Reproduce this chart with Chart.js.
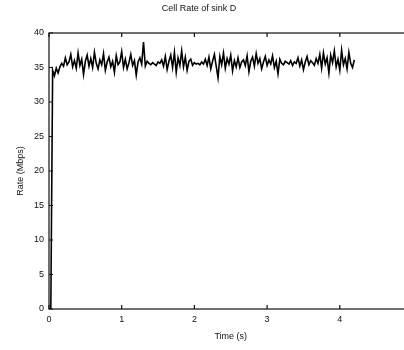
<!DOCTYPE html>
<html>
<head>
<meta charset="utf-8">
<script src="https://cdn.jsdelivr.net/npm/chart.js@4"></script>
<style>
  html, body { margin: 0; padding: 0; background: #fff; overflow: hidden; }
  #wrap { position: absolute; left: 0; top: 0; width: 420px; height: 350px; }
</style>
</head>
<body>
<div id="wrap"><canvas id="canvas" width="420" height="350"></canvas></div>
<script>
// sample spacing of the trace (s)
var step = 0.025;

// cell rate (Mbps), first two samples before the source starts
var rate = [
  0, 0,
  34.6, 33.8, 34.9, 34.2, 35.1, 35.6, 35.2, 36.4, 35.4, 35.8,
  36.9, 35.1, 36.0, 34.9, 37.1, 35.3, 36.2, 34.0, 35.9, 36.8,
  35.2, 36.3, 35.0, 37.2, 35.6, 34.8, 36.1, 35.4, 37.0, 34.6,
  35.8, 36.5, 35.1, 35.9, 34.3, 36.7, 35.4, 35.8, 37.3, 35.0,
  36.2, 34.8, 35.7, 36.9, 35.3, 36.0, 33.9, 35.8, 36.4, 35.5,
  38.7, 35.2, 35.9, 35.6, 35.4, 35.7, 35.5, 35.3, 35.8, 35.6,
  36.1, 35.2, 36.6, 34.7, 35.9, 36.8, 35.0, 37.2, 34.3, 36.4,
  35.3, 37.4, 35.1, 36.5, 34.6, 35.9, 36.2, 35.3, 35.7, 35.5,
  35.6, 35.4, 35.8, 35.5, 36.2, 35.3, 36.5, 34.8, 35.9, 36.9,
  35.2, 33.5, 36.6, 35.4, 37.1, 34.9, 36.3, 35.5, 36.8, 34.5,
  36.0, 35.1, 36.4, 35.0, 35.8, 36.1, 35.3, 36.7, 34.4, 35.9,
  36.5, 35.2, 37.0, 35.6, 36.3, 34.8, 35.8, 36.6, 35.3, 36.1,
  35.5, 36.7, 35.0, 35.9, 34.1, 36.2, 35.6, 35.4, 35.9, 35.7,
  35.5, 36.0, 35.3, 35.8, 35.6, 36.4, 35.2, 36.1, 34.7, 35.8,
  36.6, 35.4, 36.0, 35.7, 35.3, 36.3, 35.6, 36.9, 34.9, 37.1,
  35.5, 36.4, 34.2, 36.8, 35.7, 37.4, 35.1, 36.2, 34.6, 37.5,
  35.4, 36.3, 34.8, 37.2, 35.6, 35.0, 36.1
];

var xTicks = [0, 1, 2, 3, 4, 5];
var yTicks = [0, 5, 10, 15, 20, 25, 30, 35, 40];

var points = rate.map(function (v, i) { return { x: i * step, y: v }; });

var font = { family: 'Liberation Sans, Arial, sans-serif', size: 9 };

// matlab style box with inward ticks
var boxPlugin = {
  id: 'box',
  afterDraw: function (chart) {
    var ctx = chart.ctx, a = chart.chartArea;
    var xs = chart.scales.x, ys = chart.scales.y;
    ctx.save();
    ctx.strokeStyle = '#111';
    ctx.lineWidth = 1.2;
    ctx.strokeRect(a.left, a.top, a.right - a.left, a.bottom - a.top);
    ctx.beginPath();
    xTicks.forEach(function (t) {
      var px = xs.getPixelForValue(t);
      ctx.moveTo(px, a.bottom); ctx.lineTo(px, a.bottom - 4);
      ctx.moveTo(px, a.top); ctx.lineTo(px, a.top + 4);
    });
    yTicks.forEach(function (t) {
      var py = ys.getPixelForValue(t);
      ctx.moveTo(a.left, py); ctx.lineTo(a.left + 4, py);
      ctx.moveTo(a.right, py); ctx.lineTo(a.right - 4, py);
    });
    ctx.stroke();
    ctx.fillStyle = '#111';
    ctx.font = '9px Liberation Sans, Arial, sans-serif';
    ctx.textAlign = 'center';
    ctx.textBaseline = 'middle';
    ctx.fillText('Cell Rate of sink D', 199, 9);
    ctx.restore();
  }
};

new Chart(document.getElementById('canvas').getContext('2d'), {
  type: 'line',
  data: {
    datasets: [{
      data: points,
      borderColor: '#000',
      borderWidth: 1.6,
      pointRadius: 0,
      tension: 0,
      fill: false
    }]
  },
  options: {
    responsive: false,
    animation: false,
    layout: { padding: { top: 33, right: 6, left: 15, bottom: 8 } },
    plugins: { legend: { display: false }, tooltip: { enabled: false } },
    scales: {
      x: {
        type: 'linear',
        min: 0, max: 5,
        afterFit: function (s) { s.height = 33; },
        afterBuildTicks: function (s) { s.ticks = xTicks.map(function (v) { return { value: v }; }); },
        grid: { display: false, drawTicks: false },
        border: { display: false },
        ticks: { color: '#111', font: font, padding: 5, maxRotation: 0 },
        title: { display: true, text: 'Time (s)', color: '#111', font: font, padding: { top: 2, bottom: 0 } }
      },
      y: {
        min: 0, max: 40,
        afterFit: function (s) { s.width = 34; },
        afterBuildTicks: function (s) { s.ticks = yTicks.map(function (v) { return { value: v }; }); },
        grid: { display: false, drawTicks: false },
        border: { display: false },
        ticks: { color: '#111', font: font, padding: 5 },
        title: { display: true, text: 'Rate (Mbps)', color: '#111', font: font, padding: { top: 0, bottom: 2 } }
      }
    }
  },
  plugins: [boxPlugin]
});
</script>
</body>
</html>
